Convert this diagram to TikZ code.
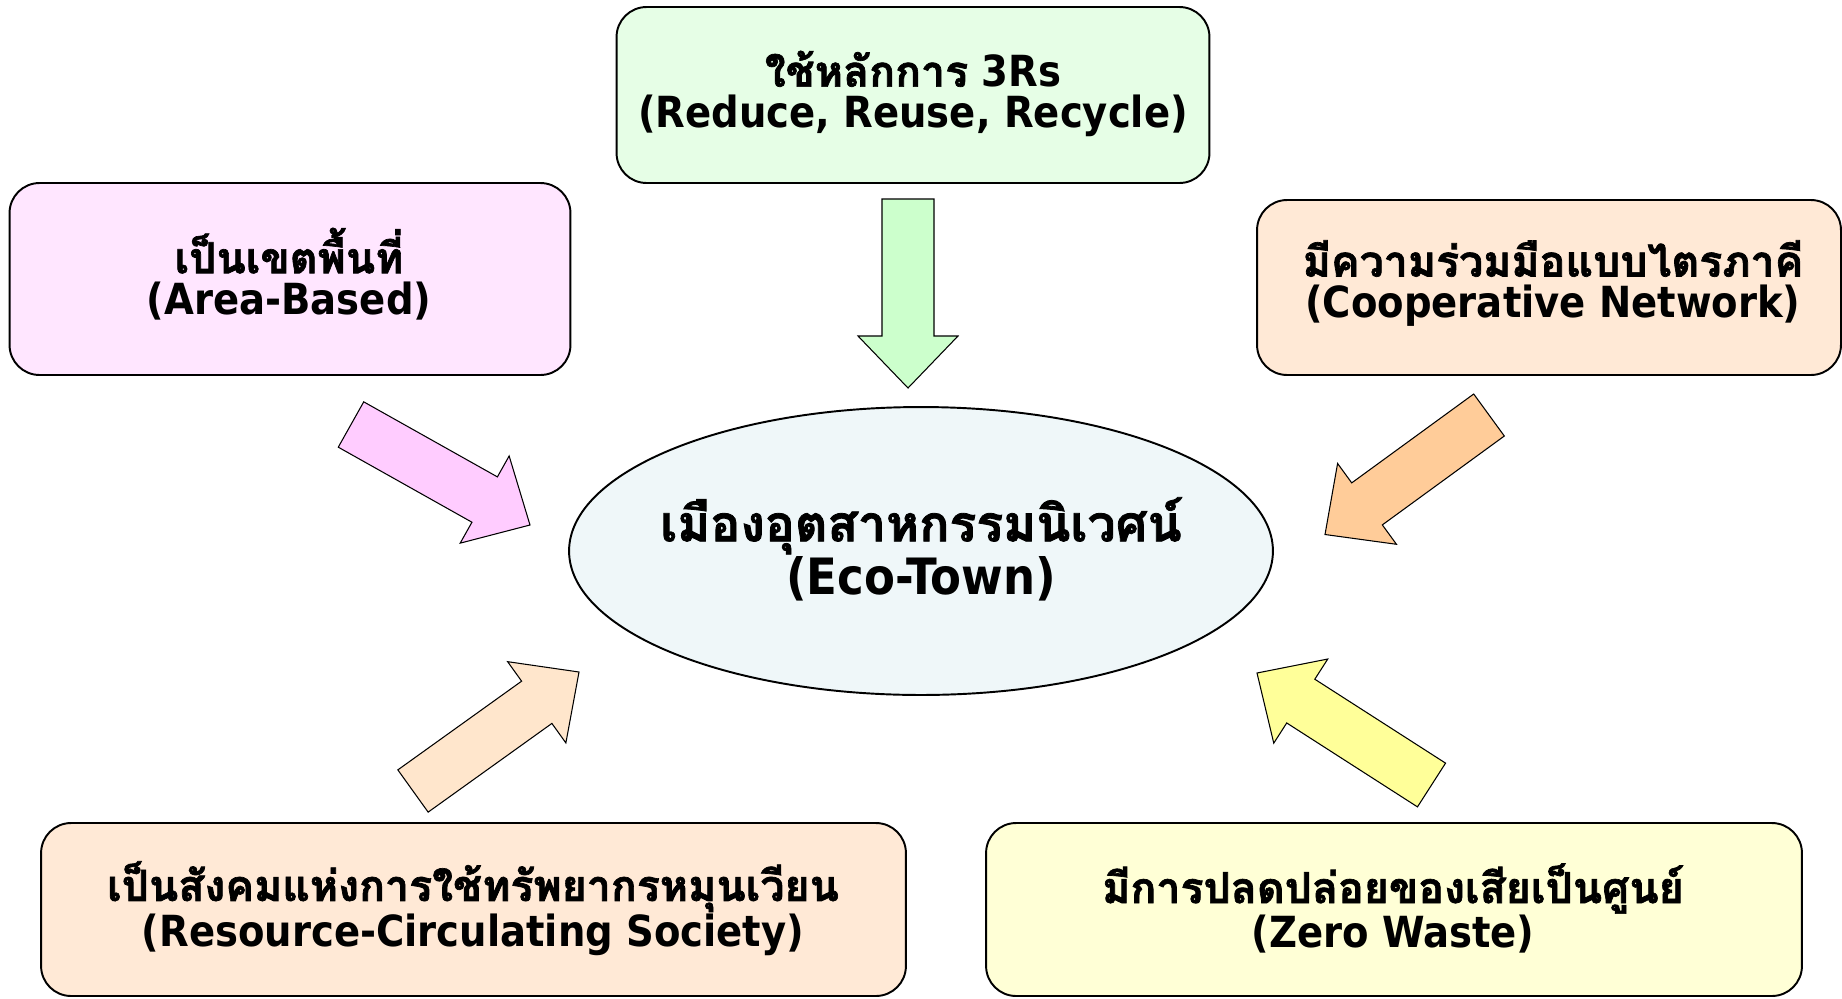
\documentclass[tikz,border=0pt]{standalone}
\usepackage{fontspec}
\setmainfont{DejaVu Sans Condensed}
\newfontfamily\thaifont[Script=Thai, BoldFont={Loma Bold}, BoldFeatures={FakeBold=1.6}]{Loma}
\usetikzlibrary{calc,shapes.geometric}

\definecolor{boxgreen}{HTML}{E6FEE6}
\definecolor{boxpink}{HTML}{FFE6FF}
\definecolor{boxpeach}{HTML}{FFE9D6}
\definecolor{boxyellow}{HTML}{FFFFD6}
\definecolor{boxblue}{HTML}{EFF7F9}
\definecolor{arrgreen}{HTML}{CCFFCC}
\definecolor{arrpink}{HTML}{FFCCFF}
\definecolor{arrorange}{HTML}{FFCC99}
\definecolor{arrpeach}{HTML}{FFE6CC}
\definecolor{arryellow}{HTML}{FFFF99}

\newcommand{\thai}[1]{{\thaifont #1}}
% block arrow from tail #1 to tip #2, filled with #3
\newcommand{\blockarrow}[3]{%
  \coordinate (H) at ($(#2)!1.04cm!(#1)$);
  \filldraw[fill=#3, draw=black, line width=0.6pt, line join=miter]
    ($(#1)!0.52cm!90:(#2)$) -- ($(H)!0.52cm!-90:(#1)$) -- ($(H)!1cm!-90:(#1)$)
    -- (#2) -- ($(H)!1cm!90:(#1)$) -- ($(H)!0.52cm!90:(#1)$)
    -- ($(#1)!0.52cm!-90:(#2)$) -- cycle;
}

\tikzset{
  box/.style={draw, rounded corners=0.6cm, line width=1.1pt, inner sep=0pt},
  lbl/.style={align=center, font=\fontsize{24.4}{23.5}\selectfont\bfseries},
  biglbl/.style={align=center, font=\fontsize{28.5}{25.5}\selectfont\bfseries},
}

\begin{document}
\begin{tikzpicture}[x=0.02cm, y=-0.02cm]
\useasboundingbox (0,0) rectangle (1842,998);

\node[box, fill=boxgreen, minimum width=11.86cm, minimum height=3.52cm] (P1) at (913,95) {};
\node[box, fill=boxpink, minimum width=11.22cm, minimum height=3.84cm] (P2) at (290,279) {};
\node[box, fill=boxpeach, minimum width=11.68cm, minimum height=3.5cm] (P3) at (1549,287.5) {};
\node[box, fill=boxpeach, minimum width=17.3cm, minimum height=3.46cm] (P4) at (473.5,909.5) {};
\node[box, fill=boxyellow, minimum width=16.32cm, minimum height=3.46cm] (P5) at (1394,909.5) {};
\node[draw, ellipse, fill=boxblue, line width=1.1pt, inner sep=0pt,
      minimum width=14.08cm, minimum height=5.76cm] (P0) at (921,551) {};

\node[lbl] (T1) at (913,94) {\thai{ใช้หลักการ} 3Rs\\(Reduce, Reuse, Recycle)};
\node[lbl] (T2) at (289,274) {\thai{เป็นเขตพื้นที่}\\(Area-Based)};
\node[lbl] (T3) at (1553,283.5) {\thai{มีความร่วมมือแบบไตรภาคี}\\(Cooperative Network)};
\node[lbl] (T4) at (473,908.5) {\thai{เป็นสังคมแห่งการใช้ทรัพยากรหมุนเวียน}\\(Resource-Circulating Society)};
\node[lbl] (T5) at (1393,908.5) {\thai{มีการปลดปล่อยของเสียเป็นศูนย์}\\(Zero Waste)};
\node[biglbl] (T0) at (921,549) {\thai{เมืองอุตสาหกรรมนิเวศน์}\\(Eco-Town)};

% arrow ends
\coordinate (A1) at (908,199);   \coordinate (B1) at (908,388);
\coordinate (A2) at (351,424.5); \coordinate (B2) at (530,525);
\coordinate (A3) at (1489,415);  \coordinate (B3) at (1325,534.5);
\coordinate (A4) at (413,791);   \coordinate (B4) at (579,672);
\coordinate (A5) at (1431.5,785);\coordinate (B5) at (1257,673);

\blockarrow{A1}{B1}{arrgreen}
\blockarrow{A2}{B2}{arrpink}
\blockarrow{A3}{B3}{arrorange}
\blockarrow{A4}{B4}{arrpeach}
\blockarrow{A5}{B5}{arryellow}
\end{tikzpicture}
\end{document}
